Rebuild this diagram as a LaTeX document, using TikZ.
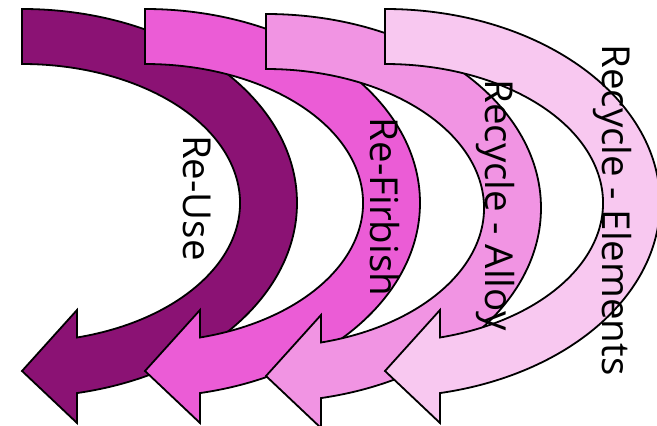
\documentclass[tikz,border=0pt]{standalone}
\usepackage{fontspec}
\setmainfont{Open Sans}
\definecolor{cA}{HTML}{8B1274}
\definecolor{cB}{HTML}{EB5CD6}
\definecolor{cC}{HTML}{F194E3}
\definecolor{cD}{HTML}{F8C8F0}
\tikzset{
  arrowshape/.style={draw=black, line width=1.8pt, line join=miter},
  lbl/.style={rotate=-90, anchor=base, inner sep=0pt, font=\fontsize{38.5}{42}\selectfont, text=black}
}
\newcommand\cyclearrow[3]{%
  \begin{scope}[shift={(#1,426-#2)}]
    \path[arrowshape, fill=#3] (0,0)
      arc[start angle=90, end angle=-78.46, x radius=275, y radius=194]
      -- (55,-414) -- (0,-362) -- (55,-301) -- (55,-328.5)
      arc[start angle=-75.39, end angle=90, x radius=218, y radius=139]
      -- cycle;
  \end{scope}}
\begin{document}
\begin{tikzpicture}[x=1pt,y=1pt]
\useasboundingbox (0,0) rectangle (657,426);
\clip (0,0) rectangle (657,426);
\cyclearrow{22}{9}{cA}
\cyclearrow{145}{9}{cB}
\cyclearrow{266}{14}{cC}
\cyclearrow{385}{9}{cD}
\node[lbl] (reuse) at (183,228) {Re-Use};
\node[lbl] (refirbish) at (370,219) {Re-Firbish};
\node[lbl] (alloy) at (485,221) {Recycle - Alloy};
\node[lbl] (elements) at (602,216) {Recycle - Elements};
\end{tikzpicture}
\end{document}
